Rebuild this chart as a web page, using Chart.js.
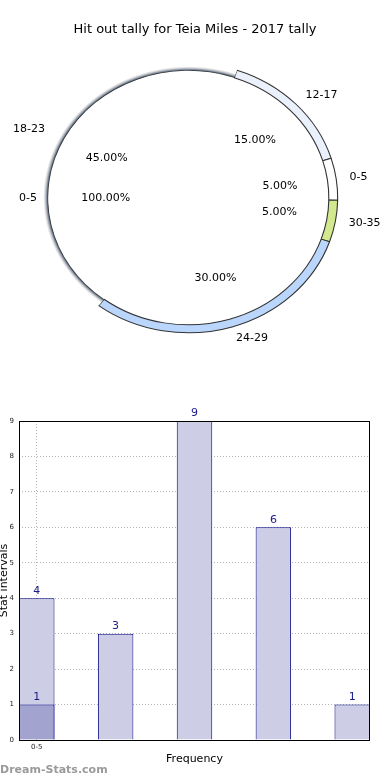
<!DOCTYPE html>
<html>
<head>
<meta charset="utf-8">
<script src="https://cdn.jsdelivr.net/npm/chart.js@4.4.0/dist/chart.umd.min.js"></script>
<style>
  html, body { margin: 0; padding: 0; background: #fff; }
  #pieBox { position: absolute; left: 0; top: 0; width: 390px; height: 380px; }
  #barBox { position: absolute; left: 0; top: 400px; width: 390px; height: 380px; }
</style>
</head>
<body>
<div id="pieBox"><canvas id="pieChart" width="390" height="380"></canvas></div>
<div id="barBox"><canvas id="barChart" width="390" height="380"></canvas></div>
<script>
// data
const chartTitle = 'Hit out tally for Teia Miles - 2017 tally';
const outerLabels = ['12-17', '0-5', '30-35', '24-29', '18-23'];
const outerShares = [15, 5, 5, 30, 45];
const innerLabels = ['0-5'];
const innerShares = [100];

const barValues = [4, 3, 9, 6, 1];
const overlayValues = [1];
const xTickLabels = ['0-5'];
const yMax = 9;

Chart.defaults.font.family = "'DejaVu Sans', Verdana, sans-serif";
Chart.defaults.color = '#000';

// pie is drawn a bit wider than tall, like the original
const stretchX = 1.105;
const shiftX = -6.5;
const outerColors = ['#eaf1fd', '#ffffff', '#d3e990', '#bad6fc', '#ffffff'];

function toScreen(chart, x, y) {
  const a = chart.chartArea;
  const cx = (a.left + a.right) / 2;
  return [cx + shiftX + (x - cx) * stretchX, y];
}

function ringShade(c) {
  const chart = c.chart;
  const a = chart.chartArea;
  if (c.dataIndex !== 4) return outerColors[c.dataIndex];
  if (!a) return '#ddd';
  const cx = (a.left + a.right) / 2, cy = (a.top + a.bottom) / 2;
  const g = chart.ctx.createRadialGradient(cx, cy, 127, cx, cy, 135);
  g.addColorStop(0, '#222222');
  g.addColorStop(0.16, '#7d8ba0');
  g.addColorStop(0.34, '#cfcfcf');
  g.addColorStop(0.55, '#ffffff');
  g.addColorStop(1, '#ffffff');
  return g;
}

const ellipsePlugin = {
  id: 'ellipse',
  beforeDatasetsDraw(chart) {
    const ctx = chart.ctx;
    const a = chart.chartArea;
    const cx = (a.left + a.right) / 2;
    ctx.save();
    ctx.translate(cx + shiftX, 0);
    ctx.scale(stretchX, 1);
    ctx.translate(-cx, 0);
  },
  afterDatasetsDraw(chart) {
    const ctx = chart.ctx;
    ctx.restore();
    ctx.save();
    ctx.font = "11px 'DejaVu Sans'";
    ctx.fillStyle = '#000';
    ctx.textBaseline = 'middle';
    chart.data.datasets.forEach((ds, di) => {
      const meta = chart.getDatasetMeta(di);
      const total = ds.data.reduce((s, v) => s + v, 0);
      meta.data.forEach((arc, i) => {
        const mid = (arc.startAngle + arc.endAngle) / 2;
        const R = arc.outerRadius;
        const cos = Math.cos(mid), sin = Math.sin(mid);
        let p = toScreen(chart, arc.x + cos * R * ds.nameDist, arc.y + sin * R * ds.nameDist);
        ctx.textAlign = cos >= 0 ? 'left' : 'right';
        ctx.fillText(ds.ringLabels[i], p[0], p[1]);
        p = toScreen(chart, arc.x + cos * R * ds.pctDist, arc.y + sin * R * ds.pctDist);
        ctx.textAlign = 'center';
        ctx.fillText((ds.data[i] / total * 100).toFixed(2) + '%', p[0], p[1]);
      });
    });
    ctx.restore();
  }
};

new Chart(document.getElementById('pieChart'), {
  type: 'pie',
  data: {
    labels: outerLabels,
    datasets: [
      {
        data: outerShares,
        ringLabels: outerLabels,
        nameDist: 1.09,
        pctDist: 0.62,
        weight: 8,
        rotation: 19,
        backgroundColor: ringShade,
        borderColor: '#333',
        borderWidth: c => (c.dataIndex === 4 ? 0 : 1),
        clip: false
      },
      {
        data: innerShares,
        ringLabels: innerLabels,
        nameDist: 1.08,
        pctDist: 0.59,
        weight: 127,
        rotation: 90,
        backgroundColor: '#fff',
        borderWidth: 0,
        clip: false
      }
    ]
  },
  options: {
    responsive: false,
    animation: false,
    radius: 135,
    layout: { padding: { bottom: 32 } },
    plugins: {
      legend: { display: false },
      tooltip: { enabled: false },
      title: {
        display: true,
        text: chartTitle,
        color: '#000',
        font: { size: 13, weight: 'normal' },
        padding: { top: 22, bottom: 10 }
      }
    }
  },
  plugins: [ellipsePlugin]
});

const barExtras = {
  id: 'barExtras',
  afterDatasetsDraw(chart) {
    const ctx = chart.ctx;
    const a = chart.chartArea;
    ctx.save();
    ctx.strokeStyle = '#000';
    ctx.lineWidth = 1;
    ctx.strokeRect(a.left + 0.5, a.top + 0.5, a.right - a.left - 1, a.bottom - a.top);
    ctx.font = "11px 'DejaVu Sans'";
    ctx.fillStyle = '#1a1a8c';
    ctx.textAlign = 'center';
    ctx.textBaseline = 'bottom';
    chart.data.datasets.forEach((ds, di) => {
      chart.getDatasetMeta(di).data.forEach((bar, i) => {
        ctx.fillText(String(ds.data[i].y), bar.x, bar.y - 2);
      });
    });
    ctx.restore();
  },
  afterDraw(chart) {
    const ctx = chart.ctx;
    ctx.save();
    ctx.font = "bold 11px 'DejaVu Sans'";
    ctx.fillStyle = '#9a9a9a';
    ctx.textAlign = 'left';
    ctx.textBaseline = 'middle';
    ctx.fillText('Dream-Stats.com', 0, 370);
    ctx.restore();
  }
};

new Chart(document.getElementById('barChart'), {
  type: 'bar',
  data: {
    datasets: [
      {
        data: overlayValues.map((v, i) => ({ x: i, y: v })),
        backgroundColor: '#a3a3d0',
        borderColor: '#000080',
        borderWidth: 1,
        grouped: false,
        order: 0,
        categoryPercentage: 1,
        barPercentage: 0.45
      },
      {
        data: barValues.map((v, i) => ({ x: i, y: v })),
        backgroundColor: '#cdcde6',
        borderColor: '#000080',
        borderWidth: 1,
        grouped: false,
        order: 1,
        categoryPercentage: 1,
        barPercentage: 0.45
      }
    ]
  },
  options: {
    responsive: false,
    animation: false,
    layout: { padding: { top: 21, right: 20, left: 0, bottom: 0 } },
    plugins: { legend: { display: false }, tooltip: { enabled: false } },
    scales: {
      x: {
        type: 'linear',
        offset: false,
        min: -0.225,
        max: 4.225,
        afterBuildTicks: s => { s.ticks = xTickLabels.map((l, i) => ({ value: i })); },
        afterFit: s => { s.height = 40; },
        ticks: {
          callback: v => xTickLabels[v] ?? '',
          font: { size: 7 },
          color: '#222',
          padding: 3,
          autoSkip: false,
          maxRotation: 0
        },
        grid: { color: '#b4b4b4', drawTicks: false, offset: false },
        border: { display: false, dash: [1, 2] },
        title: {
          display: true,
          text: 'Frequency',
          font: { size: 11 },
          color: '#000',
          padding: { top: 0, bottom: 14 }
        }
      },
      y: {
        min: 0,
        max: yMax,
        afterFit: s => { s.width = 19; },
        ticks: { stepSize: 1, font: { size: 7 }, color: '#222', padding: 5 },
        grid: { color: '#b4b4b4', drawTicks: false },
        border: { display: false, dash: [1, 2] },
        title: {
          display: true,
          text: 'Stat intervals',
          font: { size: 11 },
          color: '#000',
          padding: { top: -2, bottom: 0 }
        }
      }
    }
  },
  plugins: [barExtras]
});
</script>
</body>
</html>
